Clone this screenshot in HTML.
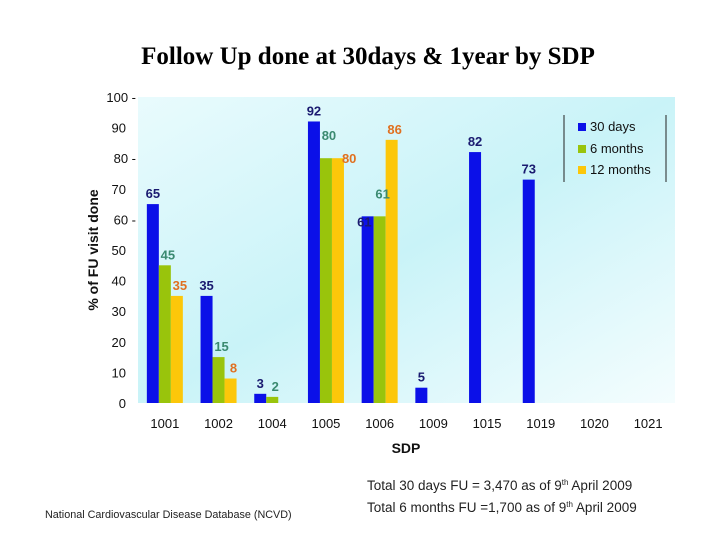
<!DOCTYPE html>
<html><head><meta charset="utf-8"><style>
body{margin:0;background:#fff;width:720px;height:540px;overflow:hidden;font-family:"Liberation Sans",sans-serif}
</style></head><body>
<svg id="chart" width="720" height="540" xmlns="http://www.w3.org/2000/svg">
<defs>
<linearGradient id="bg" x1="0" y1="0" x2="1" y2="1">
<stop offset="0" stop-color="#e9fbfd"/><stop offset="0.5" stop-color="#c9f3f8"/><stop offset="1" stop-color="#f4fdfe"/>
</linearGradient>
</defs>
<text x="368" y="64" text-anchor="middle" font-family="Liberation Serif, serif" font-weight="bold" font-size="25">Follow Up done at 30days &amp; 1year by SDP</text>
<rect x="138" y="97" width="537" height="306" fill="url(#bg)"/>
<g id="grid"></g>
<g id="bars"></g>
<g id="labels"></g>
<g id="axes"></g>
<text x="98" y="250" transform="rotate(-90 98 250)" text-anchor="middle" font-weight="bold" font-size="14" fill="#111">% of FU visit done</text>
<text x="406" y="453" text-anchor="middle" font-weight="bold" font-size="14" fill="#111">SDP</text>
<g>
<line x1="564" y1="115" x2="564" y2="182" stroke="#222"/>
<line x1="666" y1="115" x2="666" y2="182" stroke="#222"/>
<rect x="578" y="123" width="8" height="8" fill="#0b10e8"/>
<text x="590" y="131" font-size="13" fill="#111">30 days</text>
<rect x="578" y="145" width="8" height="8" fill="#99c40c"/>
<text x="590" y="153" font-size="13" fill="#111">6 months</text>
<rect x="578" y="166" width="8" height="8" fill="#fcc70a"/>
<text x="590" y="174" font-size="13" fill="#111">12 months</text>
</g>
<text x="367" y="490" font-size="13.5" fill="#222">Total 30 days FU = 3,470 as of 9<tspan font-size="8" dy="-5">th</tspan><tspan dy="5"> April 2009</tspan></text>
<text x="367" y="512" font-size="13.5" fill="#222">Total 6 months FU =1,700 as of 9<tspan font-size="8" dy="-5">th</tspan><tspan dy="5"> April 2009</tspan></text>
<text x="45" y="518" font-size="10.8" fill="#222">National Cardiovascular Disease Database (NCVD)</text>
</svg>
<script>
const categories=["1001","1002","1004","1005","1006","1009","1015","1019","1020","1021"];
const days30=[65,35,3,92,61,5,82,73,null,null];
const months6=[45,15,2,80,61,null,null,null,null,null];
const months12=[35,8,null,80,86,null,null,null,null,null];
const yTicks=[0,10,20,30,40,50,60,70,80,90,100];
const NS="http://www.w3.org/2000/svg";
const x0=138,band=53.7,y0=403,ppu=3.06;
const yS=v=>y0-v*ppu;
const xC=i=>x0+band*(i+0.5);
const axes=document.getElementById('axes'),bars=document.getElementById('bars'),labels=document.getElementById('labels');
function mk(tag,attrs,parent){const e=document.createElementNS(NS,tag);for(const k in attrs)e.setAttribute(k,attrs[k]);parent.appendChild(e);return e;}
yTicks.forEach(t=>{
  const dash=(t%20===0&&t>=60);
  const tx=mk('text',{x:dash?136:126,y:yS(t)+5,'text-anchor':'end','font-size':13,fill:'#111'},axes);
  tx.textContent=t+(dash?' -':'');
  
  
});
categories.forEach((c,i)=>{
  const tx=mk('text',{x:xC(i),y:428,'text-anchor':'middle','font-size':13,fill:'#111'},axes);
  tx.textContent=c;
  
  
});
const series=[[days30,'#0b10e8','#1a1a70','30-days'],[months6,'#99c40c','#3a8a70','6-months'],[months12,'#fcc70a','#e07020','12-months']];
const bw=12;
series.forEach(([vals,col,lc,nm],s)=>{
  vals.forEach((v,i)=>{
    if(v==null)return;
    const x=xC(i)-18+s*bw;
    const r=mk('rect',{x:x,y:yS(v),width:bw,height:v*ppu,fill:col},bars);
    
    
    let lx=x+bw/2+(s>0?3:0),ly=yS(v)-6,anchor='middle';
    if(s===0&&months6[i]===v){lx=x+bw-2;ly=yS(v)+10;anchor='end';}
    if(s===1&&(months12[i]===v||days30[i]===v)){ly=yS(v)-18;}
    if(s===2&&months6[i]===v){lx=x+bw-2;ly=yS(v)+5;anchor='start';}
    const t=mk('text',{x:lx,y:ly,'text-anchor':anchor,'font-size':13,'font-weight':'bold',fill:lc},labels);
    t.textContent=v;
    
    
  });
});
</script>
</body></html>
